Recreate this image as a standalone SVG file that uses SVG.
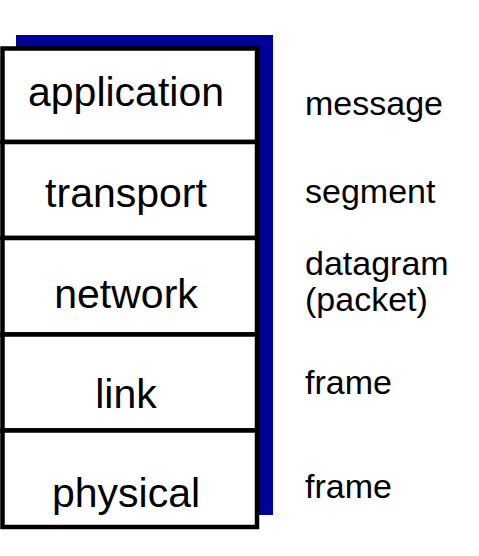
<svg xmlns="http://www.w3.org/2000/svg" width="479" height="556" viewBox="0 0 479 556">
  <style>
    .layer { fill: #ffffff; stroke: #000000; stroke-width: 4.5; }
    .lname { font-family: "Liberation Sans", Arial, sans-serif; font-size: 41px; fill: #000; text-anchor: middle; }
    .unit { font-family: "Liberation Sans", Arial, sans-serif; font-size: 34px; fill: #000; }
  </style>
  <rect width="479" height="556" fill="#ffffff"/>
  <!-- drop shadow behind the stack -->
  <rect id="shadow" x="16" y="35" width="257" height="480" fill="#000099"/>
  <g id="application">
    <rect class="layer" x="2.5" y="48.5" width="254.5" height="93.5"/>
    <text class="lname" x="126" y="106">application</text>
  </g>
  <g id="transport">
    <rect class="layer" x="2.5" y="142" width="254.5" height="96"/>
    <text class="lname" x="126" y="207">transport</text>
  </g>
  <g id="network">
    <rect class="layer" x="2.5" y="238" width="254.5" height="96.5"/>
    <text class="lname" x="126" y="308">network</text>
  </g>
  <g id="link">
    <rect class="layer" x="2.5" y="334.5" width="254.5" height="96"/>
    <text class="lname" x="126" y="408">link</text>
  </g>
  <g id="physical">
    <rect class="layer" x="2.5" y="430.5" width="254.5" height="96.5"/>
    <text class="lname" x="126" y="507">physical</text>
  </g>
  <g id="units">
    <text class="unit" x="305" y="115">message</text>
    <text class="unit" x="305" y="203">segment</text>
    <text class="unit" x="305" y="275">datagram</text>
    <text class="unit" x="305" y="311">(packet)</text>
    <text class="unit" x="305" y="394">frame</text>
    <text class="unit" x="305" y="498">frame</text>
  </g>
  <g id="connectors"/>
</svg>
